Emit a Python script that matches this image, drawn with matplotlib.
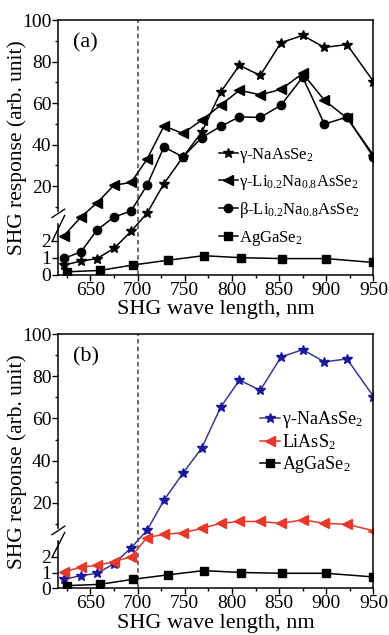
import numpy as np
import matplotlib
matplotlib.use("Agg")
import matplotlib.pyplot as plt
from matplotlib.transforms import blended_transform_factory

plt.rcParams['font.family'] = ['Liberation Serif', 'DejaVu Serif']
plt.rcParams['mathtext.fontset'] = 'custom'
plt.rcParams['mathtext.rm'] = 'Liberation Serif'
plt.rcParams['mathtext.it'] = 'Liberation Serif:italic'

# Data (wavelength in nm, SHG response in arb. unit)
wl = [622, 640, 657, 675, 693, 710, 728, 748, 768, 788, 808, 830, 852, 875, 898, 922, 950]
wl_ag = [625, 660, 695, 732, 770, 810, 853, 900, 950]

na_as_se2 = [0.57, 0.8, 0.95, 1.55, 2.55, 7.0, 21.3, 34.0, 46.0, 65.3, 78.2, 73.3, 89.1, 92.6, 86.8, 88.2, 70.4]
g_li_na = [2.3, 5.2, 12.0, 20.5, 21.8, 33.0, 49.0, 45.4, 51.8, 59.0, 66.2, 64.0, 66.6, 74.3, 61.4, 52.8, 35.0]
b_li_na = [0.96, 1.35, 2.63, 5.2, 8.0, 20.5, 38.9, 34.1, 43.4, 48.8, 53.4, 53.1, 59.0, 72.5, 49.9, 53.3, 34.0]
li_as_s2 = [1.05, 1.33, 1.46, 1.68, 2.0, 3.6, 5.1, 5.9, 7.9, 10.3, 11.2, 11.2, 10.3, 12.0, 10.3, 9.9, 6.8]
ag_ga_se2 = [0.17, 0.25, 0.57, 0.85, 1.12, 1.0, 0.95, 0.95, 0.72]

KNOT = 3.15  # y-axis break: linear 0..KNOT below, compressed above


def make_scale(r):
    def fwd(v):
        v = np.asarray(v, dtype=float)
        return np.where(v <= KNOT, v, KNOT + (v - KNOT) * r)

    def inv(u):
        u = np.asarray(u, dtype=float)
        return np.where(u <= KNOT, u, KNOT + (u - KNOT) / r)
    return fwd, inv


def style_axes(ax, r, label):
    ax.set_yscale('function', functions=make_scale(r))
    ax.set_ylim(0, 100)
    ax.set_xlim(616, 950)
    ax.set_yticks([0, 1, 2, 20, 40, 60, 80, 100])
    ax.set_yticks([10, 30, 50, 70, 90], minor=True)
    ax.set_yticklabels(['0', '1', '2', '20', '40', '60', '80', '100'])
    ax.set_xticks(np.arange(650, 951, 50))
    ax.set_xticks(np.arange(625, 951, 50), minor=True)
    ax.tick_params(which='major', direction='out', length=4, width=1, labelsize=14, pad=1)
    ax.tick_params(which='minor', direction='out', length=2.5, width=1)
    for s in ax.spines.values():
        s.set_linewidth(1.1)
    ax.axvline(700, color='#444444', lw=1.1, ls=(0, (3, 2)), zorder=1)
    ax.set_xlabel('SHG wave length, nm', fontsize=16, labelpad=1)
    ax.set_ylabel('SHG response (arb. unit)', fontsize=15.5)
    ax.yaxis.set_label_coords(-0.1, 0.5)
    ax.text(0.045, 0.91, label, transform=ax.transAxes, fontsize=16, va='center')

    # break marks on the left spine
    tr = blended_transform_factory(ax.transAxes, ax.transData)
    ax.plot([0, 0], [KNOT + 0.3, 7.0], color='white', lw=2.5, transform=tr, clip_on=False, zorder=5)
    for off in (-1.2, 1.8):
        ax.plot([-0.02, 0.02], [KNOT + off, KNOT + off + 4.0], color='black', lw=1.0,
                transform=tr, clip_on=False, zorder=6)


fig = plt.figure(figsize=(3.89, 6.35), dpi=100)
ax1 = fig.add_axes([0.15, 0.5674, 0.81, 0.4011])
ax2 = fig.add_axes([0.15, 0.0735, 0.81, 0.4005])

# (a)
lw = 1.1
ax1.plot(wl, na_as_se2, '-', color='black', marker='*', ms=7, lw=lw, label=r'γ-NaAsSe$_2$')
ax1.plot(wl, g_li_na, '-', color='black', marker='<', ms=6.5, lw=lw, label=r'γ-Li$_{0.2}$Na$_{0.8}$AsSe$_2$')
ax1.plot(wl, b_li_na, '-', color='black', marker='o', ms=6, lw=lw, label=r'β-Li$_{0.2}$Na$_{0.8}$AsSe$_2$')
ax1.plot(wl_ag, ag_ga_se2, '-', color='black', marker='s', ms=5.5, lw=lw, label=r'AgGaSe$_2$')
style_axes(ax1, 0.1224, '(a)')
ax1.legend(loc='upper left', bbox_to_anchor=(0.5, 0.52), frameon=False, fontsize=12,
           handlelength=1.1, handletextpad=0.1, labelspacing=0.5, borderaxespad=0, borderpad=0.2)

# (b)
ax2.plot(wl, na_as_se2, '-', color='#3a3a8c', marker='*', ms=7, mfc='#1a1a9a', mec='#1a1a9a', lw=lw,
         label=r'γ-NaAsSe$_2$')
ax2.plot(wl, li_as_s2, '-', color='#e8382a', marker='<', ms=6.5, lw=lw, label=r'LiAsS$_2$')
ax2.plot(wl_ag, ag_ga_se2, '-', color='black', marker='s', ms=5.5, lw=lw, label=r'AgGaSe$_2$')
style_axes(ax2, 0.1334, '(b)')
ax2.legend(loc='upper left', bbox_to_anchor=(0.63, 0.72), frameon=False, fontsize=13,
           handlelength=1.1, handletextpad=0.1, labelspacing=0.12, borderaxespad=0, borderpad=0.2)

fig.savefig('out.png', dpi=100)
